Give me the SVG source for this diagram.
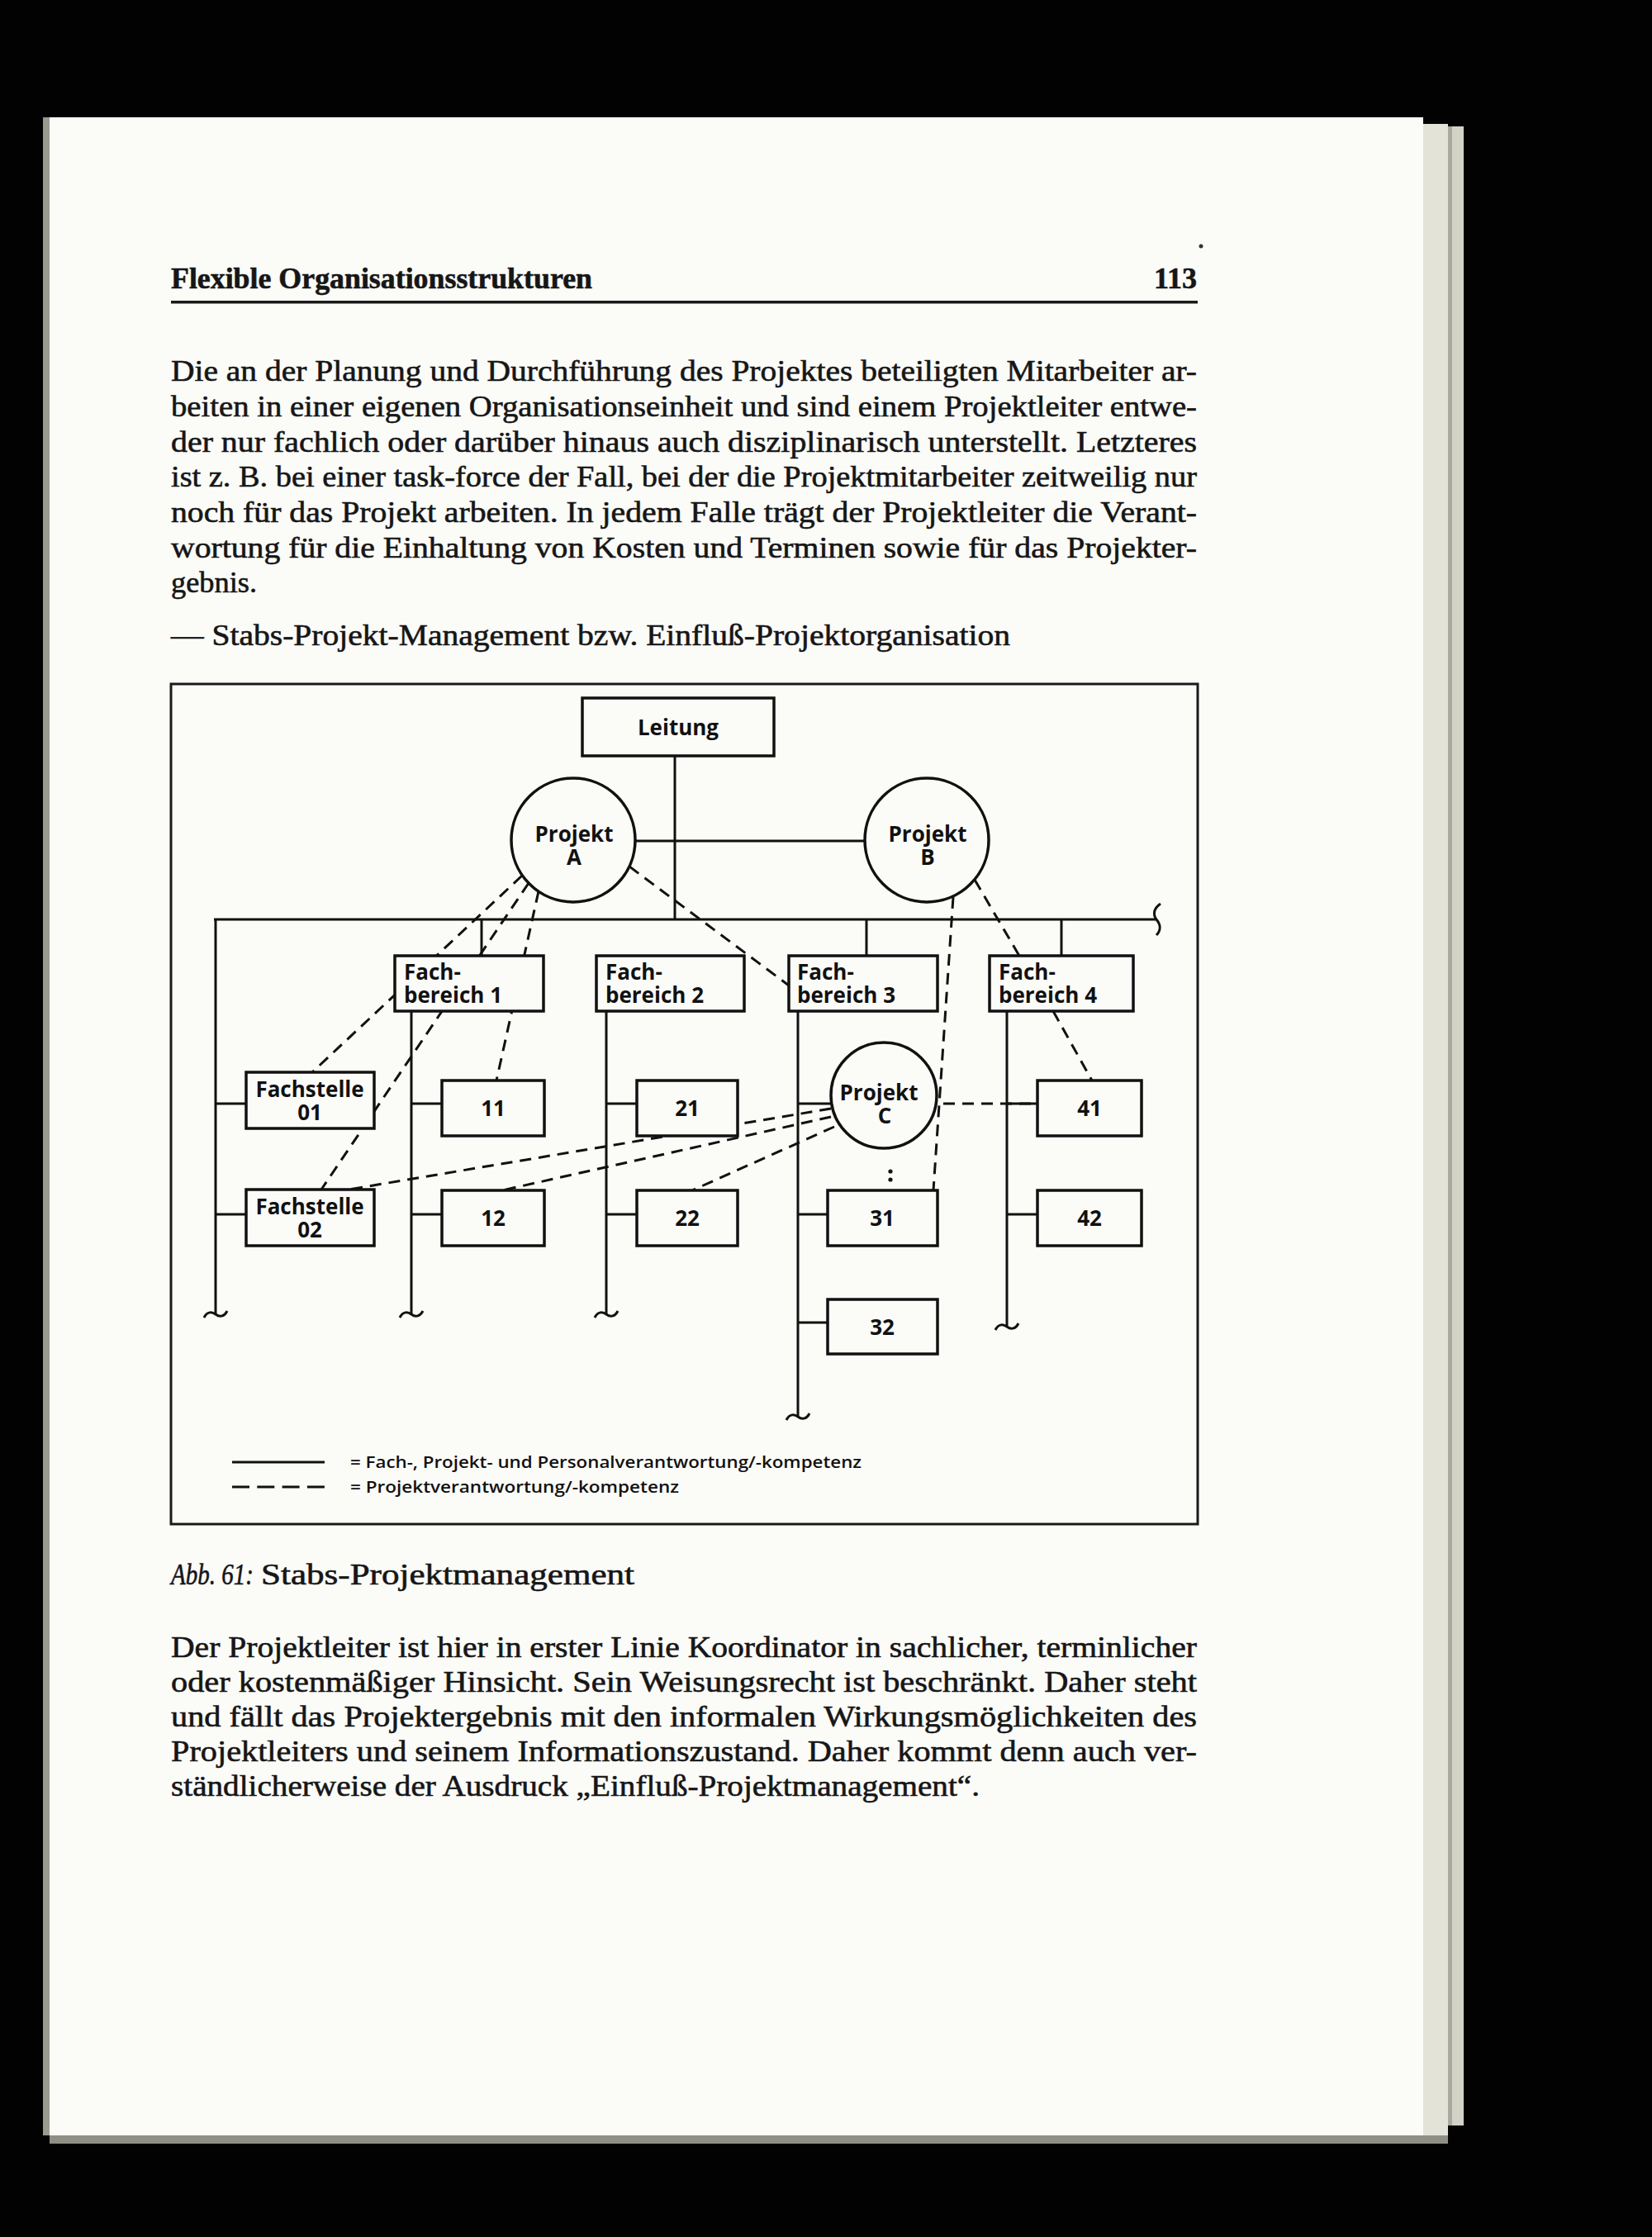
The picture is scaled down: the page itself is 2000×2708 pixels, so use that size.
<svg xmlns="http://www.w3.org/2000/svg" width="2000" height="2708" viewBox="0 0 2000 2708">
<defs>
<style>
.pg{font-family:"Liberation Serif","Times New Roman",serif;font-size:36px;fill:#161616;stroke:#161616;stroke-width:0.6}
.hd{font-weight:bold}
.lbl{font-family:"Open Sans","Liberation Sans",sans-serif;font-weight:700;font-size:26px;fill:#111}
.lg{font-family:"Open Sans","Liberation Sans",sans-serif;font-weight:600;font-size:20px;fill:#111}
.box{fill:#fbfbf8;stroke:#111;stroke-width:3.5}
.ln{stroke:#111;stroke-width:3;fill:none}
.dash{stroke:#111;stroke-width:3;fill:none;stroke-dasharray:14 9}
</style>
</defs>
<rect x="0" y="0" width="2000" height="2708" fill="#020202"/>
<rect x="1723" y="150" width="30" height="2445" fill="#e3e3d8"/>
<rect x="1753" y="153" width="19" height="2420" fill="#d2d2c6"/>
<rect x="1753" y="153" width="5" height="2420" fill="#a9a99d"/>
<rect x="52" y="142" width="10" height="2443" fill="#9a9a90"/>
<rect x="60" y="142" width="1663" height="2443" fill="#fbfbf8"/>
<rect x="60" y="2585" width="1693" height="10" fill="#8f8f86"/>
<circle cx="1454" cy="298" r="2.5" fill="#333"/>

<g id="page-text">
<text class="pg hd" x="207" y="349" textLength="510" lengthAdjust="spacingAndGlyphs">Flexible Organisationsstrukturen</text>
<text class="pg hd" x="1449" y="349" text-anchor="end">113</text>
<rect x="207" y="364" width="1243" height="3.5" fill="#1a1a1a"/>
<text class="pg" x="207" y="461" textLength="1242" lengthAdjust="spacingAndGlyphs">Die an der Planung und Durchführung des Projektes beteiligten Mitarbeiter ar-</text>
<text class="pg" x="207" y="504" textLength="1242" lengthAdjust="spacingAndGlyphs">beiten in einer eigenen Organisationseinheit und sind einem Projektleiter entwe-</text>
<text class="pg" x="207" y="547" textLength="1242" lengthAdjust="spacingAndGlyphs">der nur fachlich oder darüber hinaus auch disziplinarisch unterstellt. Letzteres</text>
<text class="pg" x="207" y="589" textLength="1242" lengthAdjust="spacingAndGlyphs">ist z. B. bei einer task-force der Fall, bei der die Projektmitarbeiter zeitweilig nur</text>
<text class="pg" x="207" y="632" textLength="1242" lengthAdjust="spacingAndGlyphs">noch für das Projekt arbeiten. In jedem Falle trägt der Projektleiter die Verant-</text>
<text class="pg" x="207" y="675" textLength="1242" lengthAdjust="spacingAndGlyphs">wortung für die Einhaltung von Kosten und Terminen sowie für das Projekter-</text>
<text class="pg" x="207" y="717" textLength="104" lengthAdjust="spacingAndGlyphs">gebnis.</text>
<text class="pg" x="207" y="781" textLength="1016" lengthAdjust="spacingAndGlyphs">— Stabs-Projekt-Management bzw. Einfluß-Projektorganisation</text>
<text class="pg" x="207" y="1918" font-style="italic" textLength="100" lengthAdjust="spacingAndGlyphs">Abb. 61:</text>
<text class="pg" x="316" y="1918" textLength="452" lengthAdjust="spacingAndGlyphs">Stabs-Projektmanagement</text>
<text class="pg" x="207" y="2006" textLength="1242" lengthAdjust="spacingAndGlyphs">Der Projektleiter ist hier in erster Linie Koordinator in sachlicher, terminlicher</text>
<text class="pg" x="207" y="2048" textLength="1242" lengthAdjust="spacingAndGlyphs">oder kostenmäßiger Hinsicht. Sein Weisungsrecht ist beschränkt. Daher steht</text>
<text class="pg" x="207" y="2090" textLength="1242" lengthAdjust="spacingAndGlyphs">und fällt das Projektergebnis mit den informalen Wirkungsmöglichkeiten des</text>
<text class="pg" x="207" y="2132" textLength="1242" lengthAdjust="spacingAndGlyphs">Projektleiters und seinem Informationszustand. Daher kommt denn auch ver-</text>
<text class="pg" x="207" y="2174" textLength="979" lengthAdjust="spacingAndGlyphs">ständlicherweise der Ausdruck „Einfluß-Projektmanagement“.</text>
</g>

<rect id="frame" x="207" y="828" width="1243" height="1017" fill="none" stroke="#1a1a1a" stroke-width="3"/>

<g id="connectors">
<line class="ln" x1="817" y1="915" x2="817" y2="1113"/>
<line class="ln" x1="769" y1="1018" x2="1047" y2="1018"/>
<line class="ln" x1="259" y1="1113" x2="1400" y2="1113" stroke-width="3.5"/>
<path class="ln" d="M1405,1094 C1396,1100 1396,1108 1400,1113 C1405,1119 1406,1126 1400,1132"/>
<line class="ln" x1="583" y1="1113" x2="583" y2="1157"/>
<line class="ln" x1="1049" y1="1113" x2="1049" y2="1157"/>
<line class="ln" x1="1285" y1="1113" x2="1285" y2="1157"/>
<line class="ln" x1="261" y1="1113" x2="261" y2="1591"/>
<line class="ln" x1="498" y1="1224" x2="498" y2="1591"/>
<line class="ln" x1="734" y1="1224" x2="734" y2="1591"/>
<line class="ln" x1="966" y1="1224" x2="966" y2="1715"/>
<line class="ln" x1="1219" y1="1224" x2="1219" y2="1606"/>
<path class="ln" d="M247,1595 C251,1587 257,1588 261,1591 C265,1594 271,1595 275,1587"/>
<path class="ln" d="M484,1595 C488,1587 494,1588 498,1591 C502,1594 508,1595 512,1587"/>
<path class="ln" d="M720,1595 C724,1587 730,1588 734,1591 C738,1594 744,1595 748,1587"/>
<path class="ln" d="M952,1719 C956,1711 962,1712 966,1715 C970,1718 976,1719 980,1711"/>
<path class="ln" d="M1205,1610 C1209,1602 1215,1603 1219,1606 C1223,1609 1229,1610 1233,1602"/>
<line class="ln" x1="261" y1="1336" x2="298" y2="1336"/>
<line class="ln" x1="261" y1="1470" x2="298" y2="1470"/>
<line class="ln" x1="498" y1="1336" x2="535" y2="1336"/>
<line class="ln" x1="498" y1="1470" x2="535" y2="1470"/>
<line class="ln" x1="734" y1="1336" x2="771" y2="1336"/>
<line class="ln" x1="734" y1="1470" x2="771" y2="1470"/>
<line class="ln" x1="966" y1="1336" x2="1006" y2="1336"/>
<line class="ln" x1="966" y1="1470" x2="1002" y2="1470"/>
<line class="ln" x1="966" y1="1601" x2="1002" y2="1601"/>
<line class="ln" x1="1219" y1="1336" x2="1256" y2="1336"/>
<line class="ln" x1="1219" y1="1470" x2="1256" y2="1470"/>
<line class="dash" x1="632" y1="1060" x2="378" y2="1298"/>
<line class="dash" x1="640" y1="1069" x2="389" y2="1440"/>
<line class="dash" x1="652" y1="1079" x2="601" y2="1308"/>
<line class="dash" x1="762" y1="1049" x2="955" y2="1193"/>
<line class="dash" x1="1154" y1="1086" x2="1130" y2="1441"/>
<line class="dash" x1="1180" y1="1065" x2="1234" y2="1157"/>
<line class="dash" x1="1275" y1="1224" x2="1322" y2="1308"/>
<line class="dash" x1="1142" y1="1336" x2="1256" y2="1336"/>
<line class="dash" x1="1006" y1="1342" x2="422" y2="1440"/>
<line class="dash" x1="1006" y1="1352" x2="608" y2="1441"/>
<line class="dash" x1="1010" y1="1364" x2="838" y2="1441"/>
<circle cx="1078" cy="1418" r="2.6" fill="#111"/>
<circle cx="1078" cy="1428" r="2.6" fill="#111"/>
</g>

<g id="leitung"><rect class="box" x="705" y="845" width="232" height="70"/><text class="lbl" x="821" y="890" text-anchor="middle">Leitung</text></g>
<g id="projekt-a"><circle class="box" cx="694" cy="1017" r="75"/><text class="lbl" x="695" y="1019" text-anchor="middle">Projekt</text><text class="lbl" x="695" y="1047" text-anchor="middle">A</text></g>
<g id="projekt-b"><circle class="box" cx="1122" cy="1017" r="75"/><text class="lbl" x="1123" y="1019" text-anchor="middle">Projekt</text><text class="lbl" x="1123" y="1047" text-anchor="middle">B</text></g>
<g id="fachbereich-1"><rect class="box" x="478" y="1157" width="180" height="67"/><text class="lbl" x="489" y="1186">Fach-</text><text class="lbl" x="489" y="1214">bereich 1</text></g>
<g id="fachbereich-2"><rect class="box" x="722" y="1157" width="179" height="67"/><text class="lbl" x="733" y="1186">Fach-</text><text class="lbl" x="733" y="1214">bereich 2</text></g>
<g id="fachbereich-3"><rect class="box" x="955" y="1157" width="180" height="67"/><text class="lbl" x="965" y="1186">Fach-</text><text class="lbl" x="965" y="1214">bereich 3</text></g>
<g id="fachbereich-4"><rect class="box" x="1198" y="1157" width="174" height="67"/><text class="lbl" x="1209" y="1186">Fach-</text><text class="lbl" x="1209" y="1214">bereich 4</text></g>
<g id="fachstelle-01"><rect class="box" x="298" y="1298" width="155" height="68"/><text class="lbl" x="375" y="1328" text-anchor="middle">Fachstelle</text><text class="lbl" x="375" y="1356" text-anchor="middle">01</text></g>
<g id="fachstelle-02"><rect class="box" x="298" y="1440" width="155" height="68"/><text class="lbl" x="375" y="1470" text-anchor="middle">Fachstelle</text><text class="lbl" x="375" y="1498" text-anchor="middle">02</text></g>
<g id="n11"><rect class="box" x="535" y="1308" width="124" height="67"/><text class="lbl" x="597" y="1351" text-anchor="middle">11</text></g>
<g id="n12"><rect class="box" x="535" y="1441" width="124" height="67"/><text class="lbl" x="597" y="1484" text-anchor="middle">12</text></g>
<g id="n21"><rect class="box" x="771" y="1308" width="122" height="67"/><text class="lbl" x="832" y="1351" text-anchor="middle">21</text></g>
<g id="n22"><rect class="box" x="771" y="1441" width="122" height="67"/><text class="lbl" x="832" y="1484" text-anchor="middle">22</text></g>
<g id="projekt-c"><circle class="box" cx="1070" cy="1326" r="64"/><text class="lbl" x="1064" y="1332" text-anchor="middle">Projekt</text><text class="lbl" x="1071" y="1360" text-anchor="middle">C</text></g>
<g id="n31"><rect class="box" x="1002" y="1441" width="133" height="67"/><text class="lbl" x="1068" y="1484" text-anchor="middle">31</text></g>
<g id="n32"><rect class="box" x="1002" y="1573" width="133" height="66"/><text class="lbl" x="1068" y="1616" text-anchor="middle">32</text></g>
<g id="n41"><rect class="box" x="1256" y="1308" width="126" height="67"/><text class="lbl" x="1319" y="1351" text-anchor="middle">41</text></g>
<g id="n42"><rect class="box" x="1256" y="1441" width="126" height="67"/><text class="lbl" x="1319" y="1484" text-anchor="middle">42</text></g>

<g id="legend">
<line class="ln" x1="281" y1="1770" x2="393" y2="1770"/>
<line class="ln" x1="281" y1="1800" x2="393" y2="1800" stroke-dasharray="21 9.3"/>
<text class="lg" x="424" y="1777" textLength="619" lengthAdjust="spacingAndGlyphs">= Fach-, Projekt- und Personalverantwortung/-kompetenz</text>
<text class="lg" x="424" y="1807" textLength="398" lengthAdjust="spacingAndGlyphs">= Projektverantwortung/-kompetenz</text>
</g>
</svg>
